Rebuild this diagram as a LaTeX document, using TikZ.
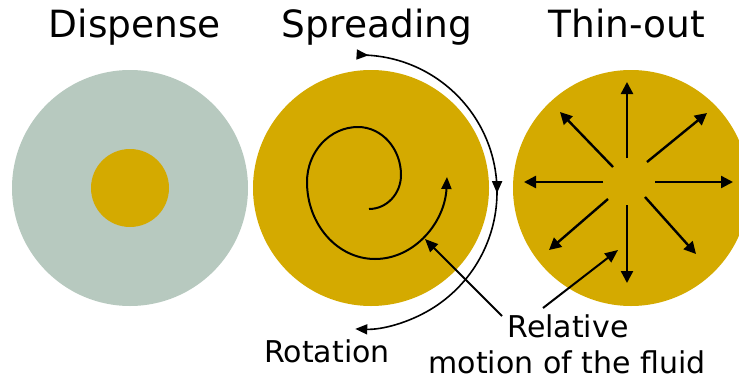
\documentclass[tikz,border=0pt]{standalone}
\usepackage{fontspec}
\setmainfont{DejaVu Sans}
\usetikzlibrary{arrows.meta,decorations.markings}
\definecolor{fluid}{RGB}{212,170,0}
\definecolor{wafer}{RGB}{183,201,191}
\tikzset{
  title/.style={anchor=base,font=\fontsize{37.5}{40}\selectfont},
  label/.style={anchor=base,font=\fontsize{30}{32}\selectfont},
  tip/.style={-{Triangle[length=12pt,width=10pt]}},
  radial/.style={-{Triangle[length=12pt,width=12pt]},line width=2.4pt},
  pointer/.style={-{Triangle[length=13pt,width=11pt]},line width=2pt},
}
\begin{document}
\begin{tikzpicture}[x=1pt,y=-1pt]
\useasboundingbox (0,0) rectangle (739,383);
\clip (0,0) rectangle (739,383);

% wafers
\fill[wafer] (130,188) circle[radius=118];
\fill[fluid] (130,188) circle[radius=39];
\fill[fluid] (371,188) circle[radius=118];
\fill[fluid] (631,188) circle[radius=118];

% titles
\node[title] (t1) at (135,37) {Dispense};
\node[title] (t2) at (377,37) {Spreading};
\node[title] (t3) at (627,37) {Thin-out};

% rotation of the wafer
\draw[line width=1.6pt,
  decoration={markings,
    mark=at position 11pt with {\arrow{Triangle[length=12pt,width=10pt]}},
    mark=at position 0.5 with {\arrow{Triangle[length=12pt,width=10pt]}}},
  postaction={decorate}, tip]
  (360,192) ++(-91:137) arc[start angle=-91,end angle=92,radius=137];

% spiral flow during spreading, built from quarter turns
\draw[tip,line width=2pt]
  (369,209) .. controls (386.7,209) and (401,193.8) .. (401,175)
            .. controls (401,148.5) and (381.7,127) .. (358,127)
            .. controls (329.8,127) and (307,151.6) .. (307,182)
            .. controls (307,224.5) and (337.5,259) .. (375,259)
            .. controls (414.7,259) and (445,222) .. (447,177);

% radial flow during thin-out
\coordinate (c) at (627,182);
\draw[radial] (627,158) -- (627,82);
\draw[radial] (627,205) -- (627,283);
\draw[radial] (603,182) -- (524,182);
\draw[radial] (655,182) -- (733,182);
\draw[radial] (613,167) -- (560,112);
\draw[radial] (647,162) -- (707,113);
\draw[radial] (608,199) -- (549,250);
\draw[radial] (645,197) -- (696,254);

% labels
\node[label] (rot) at (327,362) {Rotation};
\node[label] (rel) at (568,337) {Relative};
\node[label] (mot) at (567,373) {motion of the fluid};

\coordinate (p1) at (502,316);
\coordinate (p2) at (543,308);
\coordinate (s1) at (425,239);
\coordinate (s2) at (618,250);
\draw[pointer] (p1) -- (s1);
\draw[pointer] (p2) -- (s2);
\end{tikzpicture}
\end{document}
